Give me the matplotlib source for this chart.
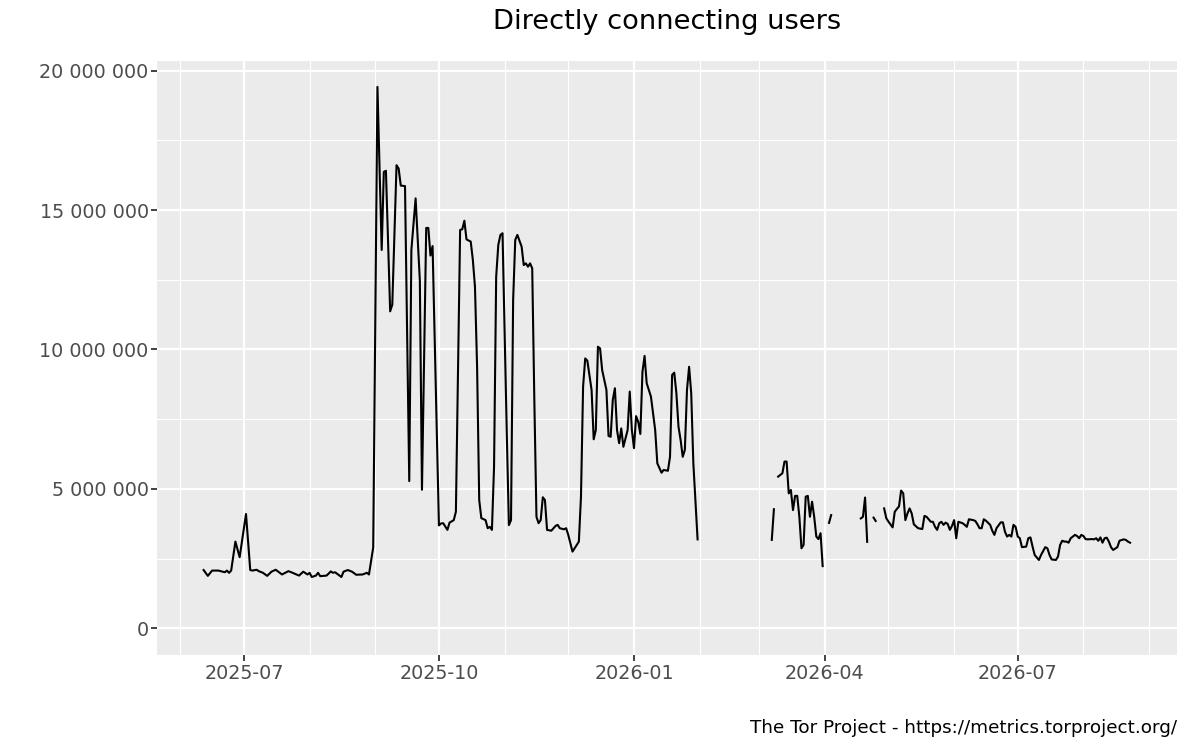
import numpy as np
import pandas as pd
import matplotlib
matplotlib.use('Agg')
import matplotlib.pyplot as plt
import matplotlib.dates as mdates
from matplotlib.ticker import FuncFormatter, MultipleLocator

# Daily directly connecting users (millions); NaN marks missing days
dates = [
    '2025-06-12', '2025-06-14', '2025-06-16', '2025-06-19', '2025-06-22', '2025-06-23',
    '2025-06-24', '2025-06-25', '2025-06-27', '2025-06-29',
    '2025-07-02', '2025-07-04', '2025-07-05', '2025-07-07', '2025-07-08', '2025-07-10',
    '2025-07-12', '2025-07-14', '2025-07-16', '2025-07-19', '2025-07-22', '2025-07-24',
    '2025-07-27', '2025-07-29', '2025-07-31',
    '2025-08-01', '2025-08-02', '2025-08-04', '2025-08-05', '2025-08-06', '2025-08-09',
    '2025-08-11', '2025-08-12', '2025-08-13', '2025-08-16', '2025-08-17', '2025-08-19',
    '2025-08-21', '2025-08-23', '2025-08-26', '2025-08-28', '2025-08-29', '2025-08-31',
    '2025-09-02', '2025-09-04', '2025-09-05', '2025-09-06', '2025-09-08', '2025-09-09',
    '2025-09-11', '2025-09-12', '2025-09-13', '2025-09-15', '2025-09-17', '2025-09-18',
    '2025-09-20', '2025-09-22', '2025-09-23', '2025-09-25', '2025-09-26', '2025-09-27',
    '2025-09-28',
    '2025-10-01', '2025-10-02', '2025-10-03', '2025-10-05', '2025-10-06', '2025-10-08',
    '2025-10-09', '2025-10-11', '2025-10-12', '2025-10-13', '2025-10-14', '2025-10-16',
    '2025-10-17', '2025-10-18', '2025-10-19', '2025-10-20', '2025-10-21', '2025-10-23',
    '2025-10-24', '2025-10-25', '2025-10-26', '2025-10-27', '2025-10-28', '2025-10-29',
    '2025-10-30', '2025-10-31',
    '2025-11-02', '2025-11-03', '2025-11-04', '2025-11-05', '2025-11-06', '2025-11-07',
    '2025-11-09', '2025-11-10', '2025-11-11', '2025-11-12', '2025-11-13', '2025-11-14',
    '2025-11-15', '2025-11-16', '2025-11-17', '2025-11-18', '2025-11-19', '2025-11-20',
    '2025-11-21', '2025-11-23', '2025-11-25', '2025-11-26', '2025-11-27', '2025-11-29',
    '2025-11-30',
    '2025-12-01', '2025-12-03', '2025-12-04', '2025-12-06', '2025-12-07', '2025-12-08',
    '2025-12-09', '2025-12-10', '2025-12-12', '2025-12-13', '2025-12-14', '2025-12-15',
    '2025-12-16', '2025-12-17', '2025-12-19', '2025-12-20', '2025-12-21', '2025-12-22',
    '2025-12-23', '2025-12-24', '2025-12-25', '2025-12-26', '2025-12-27', '2025-12-29',
    '2025-12-30', '2025-12-31',
    '2026-01-01', '2026-01-02', '2026-01-03', '2026-01-04', '2026-01-05', '2026-01-06',
    '2026-01-07', '2026-01-09', '2026-01-11', '2026-01-12', '2026-01-14', '2026-01-15',
    '2026-01-17', '2026-01-18', '2026-01-19', '2026-01-20', '2026-01-21', '2026-01-22',
    '2026-01-23', '2026-01-24', '2026-01-25', '2026-01-26', '2026-01-27', '2026-01-28',
    '2026-01-29', '2026-01-31', '2026-02-01',
    '2026-03-07', '2026-03-08', '2026-03-09', '2026-03-10', '2026-03-11', '2026-03-12',
    '2026-03-13', '2026-03-14', '2026-03-15', '2026-03-16', '2026-03-17', '2026-03-18',
    '2026-03-19', '2026-03-20', '2026-03-21', '2026-03-22', '2026-03-23', '2026-03-24',
    '2026-03-25', '2026-03-26', '2026-03-27', '2026-03-28', '2026-03-29', '2026-03-30',
    '2026-03-31',
    '2026-04-01', '2026-04-03', '2026-04-04', '2026-04-05', '2026-04-18', '2026-04-19',
    '2026-04-20', '2026-04-21', '2026-04-22', '2026-04-24', '2026-04-25', '2026-04-26',
    '2026-04-29', '2026-04-30',
    '2026-05-01', '2026-05-03', '2026-05-04', '2026-05-05', '2026-05-06', '2026-05-07',
    '2026-05-08', '2026-05-09', '2026-05-10', '2026-05-11', '2026-05-12', '2026-05-13',
    '2026-05-15', '2026-05-17', '2026-05-18', '2026-05-19', '2026-05-21', '2026-05-22',
    '2026-05-23', '2026-05-24', '2026-05-25', '2026-05-26', '2026-05-27', '2026-05-28',
    '2026-05-29', '2026-05-30', '2026-05-31',
    '2026-06-01', '2026-06-02', '2026-06-03', '2026-06-05', '2026-06-06', '2026-06-07',
    '2026-06-08', '2026-06-10', '2026-06-11', '2026-06-12', '2026-06-13', '2026-06-14',
    '2026-06-15', '2026-06-16', '2026-06-18', '2026-06-19', '2026-06-20', '2026-06-21',
    '2026-06-23', '2026-06-24', '2026-06-25', '2026-06-26', '2026-06-27', '2026-06-28',
    '2026-06-29', '2026-06-30',
    '2026-07-01', '2026-07-02', '2026-07-03', '2026-07-05', '2026-07-06', '2026-07-07',
    '2026-07-08', '2026-07-09', '2026-07-11', '2026-07-12', '2026-07-14', '2026-07-15',
    '2026-07-16', '2026-07-17', '2026-07-19', '2026-07-20', '2026-07-21', '2026-07-22',
    '2026-07-23', '2026-07-24', '2026-07-25', '2026-07-26', '2026-07-28', '2026-07-29',
    '2026-07-30', '2026-07-31',
    '2026-08-01', '2026-08-02', '2026-08-03', '2026-08-05', '2026-08-06', '2026-08-07',
    '2026-08-08', '2026-08-09', '2026-08-10', '2026-08-11', '2026-08-12', '2026-08-13',
    '2026-08-14', '2026-08-15', '2026-08-17', '2026-08-18', '2026-08-20', '2026-08-21',
    '2026-08-22', '2026-08-23',
]

nan = np.nan
users_millions = [
    2.09, 1.88, 2.07, 2.07, 2.01, 2.07,
    1.99, 2.07, 3.11, 2.55,
    4.10, 2.09, 2.07, 2.10, 2.05, 1.99,
    1.88, 2.03, 2.10, 1.93, 2.05, 1.99,
    1.89, 2.03, 1.93,
    1.99, 1.84, 1.89, 1.99, 1.87, 1.89,
    2.04, 1.99, 2.01, 1.84, 2.03, 2.09,
    2.03, 1.92, 1.93, 1.99, 1.93, 2.90,
    19.42, 13.57, 16.37, 16.41, 11.37, 11.61,
    16.61, 16.49, 15.88, 15.86, 5.28, 13.57,
    15.42, 12.47, 4.97, 14.36, 14.36, 13.37,
    13.71,
    3.69, 3.76, 3.77, 3.53, 3.79, 3.88,
    4.18, 14.29, 14.31, 14.62, 13.95, 13.87,
    13.21, 12.25, 9.38, 4.60, 3.95, 3.88,
    3.59, 3.64, 3.53, 5.80, 12.61, 13.75,
    14.11, 14.17,
    6.99, 3.70, 3.88, 11.78, 13.93, 14.11,
    13.69, 13.03, 13.09, 12.97, 13.09, 12.91,
    8.19, 4.00, 3.77, 3.88, 4.70, 4.60,
    3.53, 3.50, 3.67, 3.71, 3.59, 3.55,
    3.59,
    3.35, 2.75, 2.87, 3.11, 4.72, 8.67,
    9.68, 9.60, 8.55, 6.78, 7.11, 10.10,
    10.04, 9.26, 8.55, 6.90, 6.87, 8.19,
    8.61, 7.11, 6.64, 7.17, 6.51, 7.11,
    8.49, 7.11,
    6.46, 7.61, 7.41, 6.97, 9.20, 9.77,
    8.79, 8.31, 7.11, 5.92, 5.58, 5.68,
    5.65, 6.15, 9.09, 9.17, 8.43, 7.23,
    6.75, 6.15, 6.40, 8.55, 9.38, 8.43,
    5.92, 3.19, nan,
    3.17, 4.27, nan, 5.44, 5.50, 5.56,
    5.98, 5.98, 4.84, 4.96, 4.24, 4.75,
    4.75, 4.00, 2.87, 2.99, 4.72, 4.75,
    4.00, 4.54, 4.00, 3.29, 3.20, 3.41,
    2.23,
    nan, 3.78, 4.06, nan, 3.94, 4.00,
    4.69, 3.10, nan, 3.97, 3.85, nan,
    4.30, 3.95,
    3.83, 3.62, 4.18, 4.28, 4.37, 4.94,
    4.84, 3.88, 4.12, 4.30, 4.12, 3.73,
    3.59, 3.56, 4.03, 4.00, 3.82, 3.82,
    3.64, 3.53, 3.77, 3.82, 3.71, 3.79,
    3.74, 3.53, 3.67,
    3.88, 3.23, 3.82, 3.77, 3.71, 3.64,
    3.91, 3.88, 3.85, 3.73, 3.59, 3.59,
    3.91, 3.86, 3.71, 3.50, 3.35, 3.59,
    3.80, 3.80, 3.46, 3.29, 3.35, 3.29,
    3.71, 3.64,
    3.29, 3.23, 2.91, 2.93, 3.23, 3.26,
    2.93, 2.63, 2.45, 2.63, 2.91, 2.87,
    2.63, 2.47, 2.45, 2.57, 2.99, 3.14,
    3.11, 3.11, 3.07, 3.23, 3.35, 3.31,
    3.23, 3.35,
    3.31, 3.20, 3.19, 3.20, 3.19, 3.23,
    3.14, 3.26, 3.07, 3.23, 3.25, 3.11,
    2.91, 2.81, 2.91, 3.14, 3.19, 3.17,
    3.11, 3.07,
]

x = pd.to_datetime(dates)
y = np.array(users_millions) * 1e6

fig = plt.figure(figsize=(12, 7.5), dpi=100)
ax = fig.add_axes([0.1308, 0.1263, 0.8498, 0.7928])
ax.set_facecolor('#EBEBEB')
for s in ax.spines.values():
    s.set_visible(False)

ax.plot(x, y, color='black', linewidth=1.5, solid_joinstyle='round')

ax.set_xlim(pd.Timestamp('2025-05-21'), pd.Timestamp('2026-09-14'))
ax.set_ylim(-0.968e6, 20.36e6)

ax.xaxis.set_major_locator(mdates.MonthLocator(bymonth=[1, 4, 7, 10]))
ax.xaxis.set_minor_locator(mdates.MonthLocator())
ax.xaxis.set_major_formatter(mdates.DateFormatter('%Y-%m'))
ax.yaxis.set_major_locator(MultipleLocator(5e6))
ax.yaxis.set_minor_locator(MultipleLocator(2.5e6))
ax.yaxis.set_major_formatter(FuncFormatter(lambda v, p: f'{int(round(v)):,}'.replace(',', ' ')))

ax.grid(which='major', color='white', linewidth=1.6)
ax.grid(which='minor', color='white', linewidth=0.8)
ax.set_axisbelow(True)
ax.tick_params(which='major', length=4, width=1.3, color='#333333',
               labelcolor='#4D4D4D', labelsize=13.8, pad=2)
ax.tick_params(which='minor', length=0)

fig.text(0.5558, 1 - 22 / 750, 'Directly connecting users', ha='center', va='center',
         fontsize=19.6, color='black')
fig.text(1177 / 1200, 1 - 728 / 750, 'The Tor Project - https://metrics.torproject.org/',
         ha='right', va='center', fontsize=13.2, color='black')

fig.savefig('out.png', dpi=100)
plt.close(fig)
